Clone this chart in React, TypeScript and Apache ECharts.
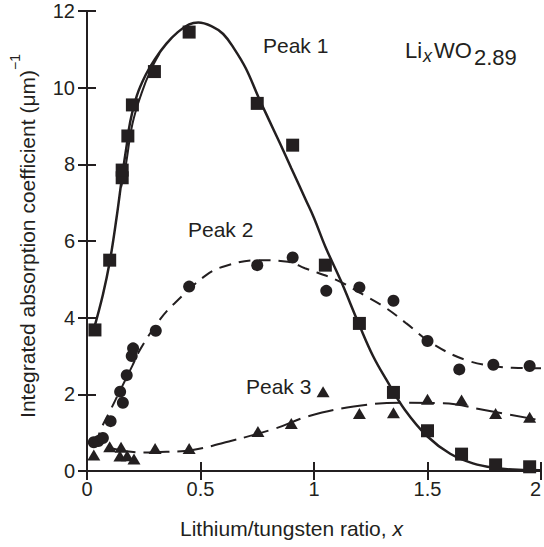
import React, { useEffect, useRef } from "react";
import * as echarts from "echarts";

// Measured points (x = Li/W ratio, y = integrated absorption coefficient, µm^-1)
const peak1Points: number[][] = [
  [0.035, 3.68], [0.1, 5.5], [0.155, 7.65], [0.155, 7.85], [0.18, 8.74], [0.2, 9.55],
  [0.297, 10.42], [0.45, 11.45], [0.75, 9.59], [0.906, 8.5], [1.05, 5.37], [1.2, 3.85],
  [1.35, 2.05], [1.5, 1.05], [1.65, 0.44], [1.8, 0.16], [1.95, 0.11],
];
const peak2Points: number[][] = [
  [0.03, 0.75], [0.05, 0.78], [0.07, 0.86], [0.104, 1.3], [0.146, 2.07], [0.158, 1.78],
  [0.175, 2.5], [0.197, 3.0], [0.203, 3.2], [0.303, 3.66], [0.45, 4.81], [0.75, 5.37],
  [0.906, 5.57], [1.054, 4.7], [1.2, 4.79], [1.35, 4.44], [1.5, 3.39], [1.64, 2.65],
  [1.79, 2.77], [1.95, 2.74],
];
const peak3Points: number[][] = [
  [0.03, 0.42], [0.1, 0.63], [0.145, 0.39], [0.15, 0.62], [0.177, 0.4], [0.207, 0.31],
  [0.3, 0.59], [0.45, 0.59], [0.753, 1.03], [0.9, 1.24], [1.04, 2.07], [1.2, 1.5],
  [1.35, 1.52], [1.5, 1.87], [1.65, 1.85], [1.8, 1.5], [1.95, 1.4],
];

// Fitted curves
const peak1Fit: number[][] = [
  [0.03, 3.7], [0.07, 4.6], [0.1, 5.45], [0.13, 6.6], [0.155, 7.7], [0.175, 8.5],
  [0.19, 9.1], [0.22, 9.8], [0.26, 10.35], [0.3, 10.75], [0.35, 11.15], [0.4, 11.45],
  [0.45, 11.65], [0.49, 11.7], [0.55, 11.6], [0.6, 11.4], [0.65, 11.0], [0.7, 10.5],
  [0.754, 9.77], [0.8, 9.18], [0.85, 8.55], [0.9, 7.9], [0.964, 7.07], [1.0, 6.6],
  [1.05, 5.85], [1.117, 4.98], [1.2, 3.8], [1.26, 3.0], [1.32, 2.37], [1.4, 1.6],
  [1.5, 0.9], [1.6, 0.45], [1.7, 0.2], [1.8, 0.08], [1.9, 0.03], [2.0, 0.02],
];
const peak1FitBranch: number[][] = [
  [0.15, 7.4], [0.17, 7.95], [0.2, 9.05], [0.24, 9.85], [0.28, 10.45], [0.32, 10.9],
];
const peak2Fit: number[][] = [
  [0.04, 0.7], [0.06, 1.07], [0.1, 1.55], [0.15, 2.15], [0.2, 2.75], [0.233, 3.16],
  [0.32, 3.94], [0.385, 4.37], [0.525, 5.11], [0.61, 5.35], [0.75, 5.5], [0.885, 5.46],
  [0.96, 5.29], [1.1, 4.98], [1.22, 4.59], [1.32, 4.24], [1.407, 3.85], [1.52, 3.33],
  [1.667, 2.9], [1.81, 2.72], [1.9, 2.69], [2.0, 2.68],
];
const peak3Fit: number[][] = [
  [0.1, 0.6], [0.24, 0.48], [0.35, 0.5], [0.465, 0.55], [0.625, 0.77], [0.83, 1.11],
  [0.97, 1.42], [1.175, 1.68], [1.38, 1.78], [1.57, 1.77], [1.75, 1.59], [2.0, 1.32],
];

const xTitle = "Lithium/tungsten ratio, ";
const yTitle = "Integrated absorption coefficient (μm)";

const INK = "#231f20";
const FONT = "Liberation Sans";

export default function App() {
  const ref = useRef<HTMLDivElement>(null);
  useEffect(() => {
    document.body.style.margin = "0";
    const chart = echarts.init(ref.current!, null, { renderer: "svg" });
    const axisCommon = {
      min: 0,
      axisLine: { show: true, lineStyle: { color: INK, width: 2 } },
      axisTick: { show: true, inside: true, length: 9, lineStyle: { color: INK, width: 2 } },
      splitLine: { show: false },
    };
    const lineSeries = (data: number[][], type: any, width: number) => ({
      type: "line",
      data,
      smooth: 0.4,
      showSymbol: false,
      symbol: "none",
      lineStyle: { color: INK, width, type, opacity: 1 },
      z: 2,
      silent: true,
    });
    const marker = (data: number[][], symbol: string, size: any) => ({
      type: "scatter",
      data,
      symbol,
      symbolSize: size,
      itemStyle: { color: INK, opacity: 1 },
      emphasis: { disabled: true },
      z: 3,
    });
    chart.setOption({
      animation: false,
      grid: { left: 87, top: 11, width: 458, height: 460 },
      xAxis: [
        {
          ...axisCommon,
          type: "value",
          max: 2,
          interval: 0.5,
          position: "bottom",
          axisLabel: {
            color: INK, fontSize: 20, fontFamily: FONT, margin: 8,
            alignMaxLabel: "right",
          },
        },
        {
          ...axisCommon,
          type: "value",
          max: 2,
          interval: 0.5,
          position: "top",
          axisLabel: { show: false },
        },
      ],
      yAxis: [
        {
          ...axisCommon,
          type: "value",
          max: 12,
          interval: 2,
          position: "left",
          axisLabel: { color: INK, fontSize: 20, fontFamily: FONT, margin: 12 },
        },
        {
          ...axisCommon,
          type: "value",
          max: 12,
          interval: 2,
          position: "right",
          axisLabel: { show: false },
        },
      ],
      series: [
        lineSeries(peak1Fit, "solid", 2.5),
        lineSeries(peak1FitBranch, "solid", 2),
        lineSeries(peak2Fit, [12, 8], 2),
        lineSeries(peak3Fit, [26, 8], 2),
        marker(peak1Points, "rect", 13),
        marker(peak2Points, "circle", 12),
        marker(peak3Points, "triangle", [13, 11]),
      ],
      graphic: [
        {
          type: "text", left: 180, top: 518,
          style: {
            text: "{a|" + xTitle + "}{i|x}",
            rich: {
              a: { fontSize: 21, fontFamily: FONT, fill: INK },
              i: { fontSize: 21, fontFamily: FONT, fontStyle: "italic", fill: INK },
            },
          },
        },
        {
          type: "text", x: 23, y: 236, rotation: Math.PI / 2,
          style: {
            text: "{a|" + yTitle + "}{b|−1}",
            align: "center", verticalAlign: "middle",
            rich: {
              a: { fontSize: 21, fontFamily: FONT, fill: INK, lineHeight: 30, verticalAlign: "bottom" },
              b: { fontSize: 14, fontFamily: FONT, fill: INK, lineHeight: 30, verticalAlign: "top" },
            },
          },
        },
        {
          type: "text", x: 263, y: 45,
          style: { text: "Peak 1", fontSize: 21, fontFamily: FONT, fill: INK, verticalAlign: "middle" },
        },
        {
          type: "text", x: 188, y: 229,
          style: { text: "Peak 2", fontSize: 21, fontFamily: FONT, fill: INK, verticalAlign: "middle" },
        },
        {
          type: "text", x: 246, y: 386,
          style: { text: "Peak 3", fontSize: 21, fontFamily: FONT, fill: INK, verticalAlign: "middle" },
        },
        {
          type: "text", x: 405, y: 50,
          style: { text: "Li", fontSize: 22, fontFamily: FONT, fill: INK, verticalAlign: "middle" },
        },
        {
          type: "text", x: 423, y: 56,
          style: { text: "x", fontSize: 18, fontStyle: "italic", fontFamily: FONT, fill: INK, verticalAlign: "middle" },
        },
        {
          type: "text", x: 434, y: 50,
          style: { text: "WO", fontSize: 22, fontFamily: FONT, fill: INK, verticalAlign: "middle" },
        },
        {
          type: "text", x: 474, y: 57,
          style: { text: "2.89", fontSize: 22, fontFamily: FONT, fill: INK, verticalAlign: "middle" },
        },
      ],
    });
    return () => chart.dispose();
  }, []);
  return <div ref={ref} style={{ width: 544, height: 547 }} />;
}
